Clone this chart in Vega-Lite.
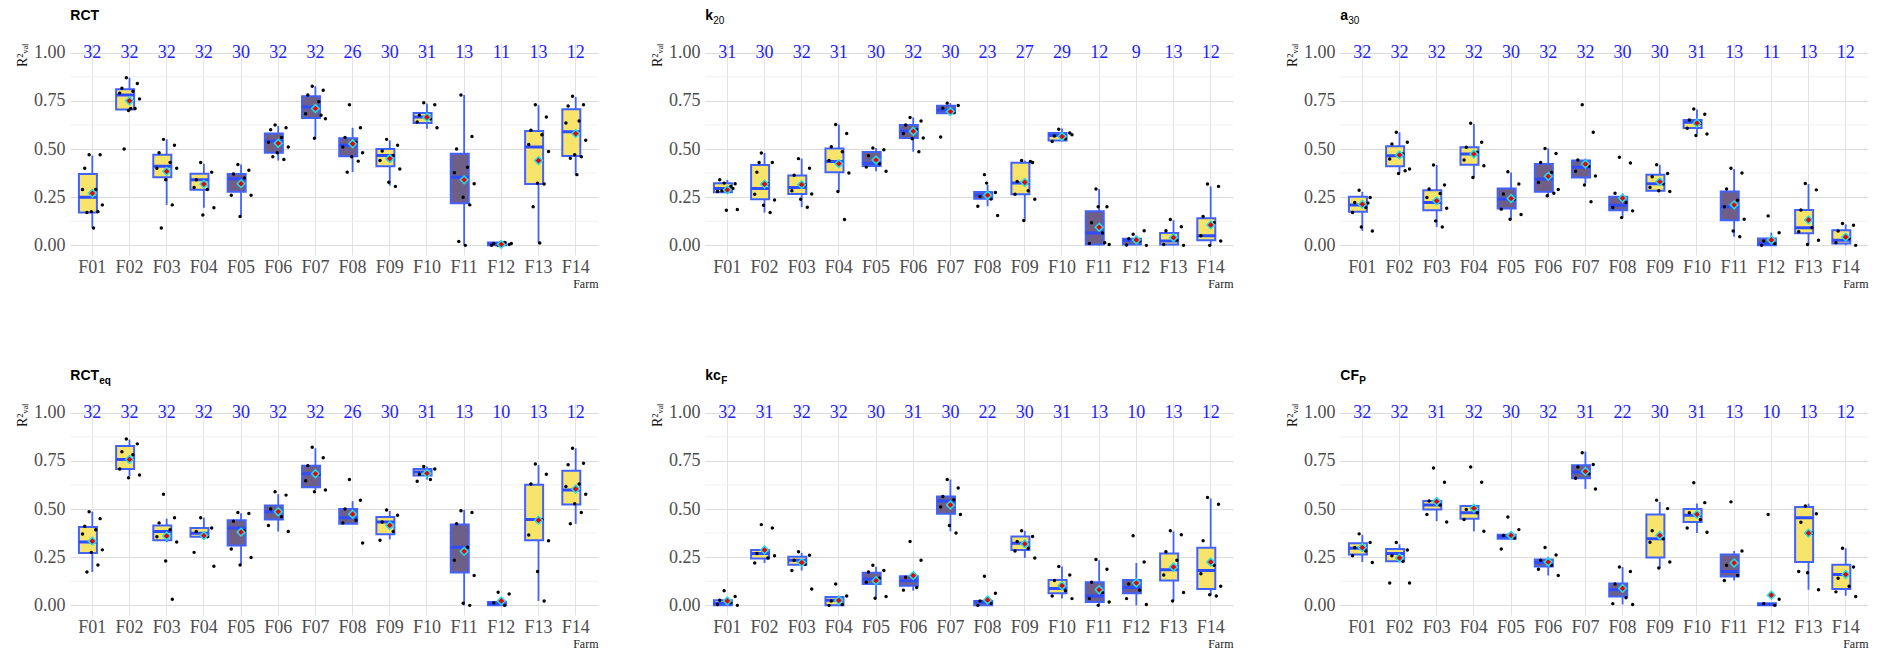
{
"$schema": "https://vega.github.io/schema/vega-lite/v6.json",
"background": "white",
"padding": {"left": 15, "top": 9, "right": 5, "bottom": 3},
"datasets": {
"box": [
{"p":"RCT","f":"F01","lo":0.09,"q1":0.17,"md":0.25,"q3":0.37,"hi":0.466,"mn":0.27,"n":32,"grp":"Y"},
{"p":"RCT","f":"F02","lo":0.70,"q1":0.705,"md":0.78,"q3":0.81,"hi":0.87,"mn":0.75,"n":32,"grp":"Y"},
{"p":"RCT","f":"F03","lo":0.21,"q1":0.353,"md":0.41,"q3":0.47,"hi":0.55,"mn":0.384,"n":32,"grp":"Y"},
{"p":"RCT","f":"F04","lo":0.195,"q1":0.289,"md":0.34,"q3":0.372,"hi":0.424,"mn":0.318,"n":32,"grp":"Y"},
{"p":"RCT","f":"F05","lo":0.153,"q1":0.278,"md":0.345,"q3":0.37,"hi":0.42,"mn":0.32,"n":30,"grp":"P"},
{"p":"RCT","f":"F06","lo":0.44,"q1":0.48,"md":0.54,"q3":0.58,"hi":0.62,"mn":0.53,"n":32,"grp":"P"},
{"p":"RCT","f":"F07","lo":0.556,"q1":0.661,"md":0.718,"q3":0.774,"hi":0.826,"mn":0.71,"n":32,"grp":"P"},
{"p":"RCT","f":"F08","lo":0.38,"q1":0.463,"md":0.52,"q3":0.556,"hi":0.61,"mn":0.527,"n":26,"grp":"P"},
{"p":"RCT","f":"F09","lo":0.31,"q1":0.41,"md":0.466,"q3":0.50,"hi":0.545,"mn":0.45,"n":30,"grp":"Y"},
{"p":"RCT","f":"F10","lo":0.605,"q1":0.635,"md":0.666,"q3":0.687,"hi":0.736,"mn":0.665,"n":31,"grp":"Y"},
{"p":"RCT","f":"F11","lo":0,"q1":0.219,"md":0.353,"q3":0.475,"hi":0.78,"mn":0.34,"n":13,"grp":"P"},
{"p":"RCT","f":"F12","lo":0,"q1":0,"md":0.008,"q3":0.015,"hi":0.02,"mn":0.005,"n":11,"grp":"P"},
{"p":"RCT","f":"F13","lo":0.012,"q1":0.318,"md":0.51,"q3":0.593,"hi":0.727,"mn":0.44,"n":13,"grp":"Y"},
{"p":"RCT","f":"F14","lo":0.367,"q1":0.464,"md":0.59,"q3":0.706,"hi":0.77,"mn":0.58,"n":12,"grp":"Y"},
{"p":"k20","f":"F01","lo":0.27,"q1":0.276,"md":0.295,"q3":0.322,"hi":0.34,"mn":0.288,"n":31,"grp":"Y"},
{"p":"k20","f":"F02","lo":0.17,"q1":0.239,"md":0.295,"q3":0.417,"hi":0.479,"mn":0.318,"n":30,"grp":"Y"},
{"p":"k20","f":"F03","lo":0.198,"q1":0.267,"md":0.30,"q3":0.362,"hi":0.45,"mn":0.315,"n":32,"grp":"Y"},
{"p":"k20","f":"F04","lo":0.28,"q1":0.38,"md":0.435,"q3":0.502,"hi":0.627,"mn":0.424,"n":31,"grp":"Y"},
{"p":"k20","f":"F05","lo":0.385,"q1":0.412,"md":0.426,"q3":0.484,"hi":0.505,"mn":0.443,"n":30,"grp":"P"},
{"p":"k20","f":"F06","lo":0.486,"q1":0.557,"md":0.594,"q3":0.624,"hi":0.664,"mn":0.592,"n":32,"grp":"P"},
{"p":"k20","f":"F07","lo":0.686,"q1":0.686,"md":0.703,"q3":0.724,"hi":0.738,"mn":0.694,"n":30,"grp":"P"},
{"p":"k20","f":"F08","lo":0.203,"q1":0.242,"md":0.261,"q3":0.277,"hi":0.314,"mn":0.26,"n":23,"grp":"P"},
{"p":"k20","f":"F09","lo":0.129,"q1":0.265,"md":0.323,"q3":0.429,"hi":0.44,"mn":0.327,"n":27,"grp":"Y"},
{"p":"k20","f":"F10","lo":0.539,"q1":0.544,"md":0.57,"q3":0.583,"hi":0.606,"mn":0.565,"n":29,"grp":"Y"},
{"p":"k20","f":"F11","lo":0,"q1":0.004,"md":0.064,"q3":0.177,"hi":0.292,"mn":0.094,"n":12,"grp":"P"},
{"p":"k20","f":"F12","lo":0,"q1":0.005,"md":0.026,"q3":0.034,"hi":0.05,"mn":0.028,"n":9,"grp":"P"},
{"p":"k20","f":"F13","lo":0,"q1":0.005,"md":0.023,"q3":0.064,"hi":0.13,"mn":0.04,"n":13,"grp":"Y"},
{"p":"k20","f":"F14","lo":0,"q1":0.026,"md":0.05,"q3":0.141,"hi":0.306,"mn":0.106,"n":12,"grp":"Y"},
{"p":"a30","f":"F01","lo":0.075,"q1":0.174,"md":0.21,"q3":0.252,"hi":0.278,"mn":0.213,"n":32,"grp":"Y"},
{"p":"a30","f":"F02","lo":0.375,"q1":0.41,"md":0.465,"q3":0.514,"hi":0.587,"mn":0.469,"n":32,"grp":"Y"},
{"p":"a30","f":"F03","lo":0.095,"q1":0.182,"md":0.222,"q3":0.286,"hi":0.417,"mn":0.231,"n":32,"grp":"Y"},
{"p":"a30","f":"F04","lo":0.352,"q1":0.418,"md":0.474,"q3":0.509,"hi":0.63,"mn":0.474,"n":32,"grp":"Y"},
{"p":"a30","f":"F05","lo":0.135,"q1":0.191,"md":0.24,"q3":0.295,"hi":0.378,"mn":0.243,"n":30,"grp":"P"},
{"p":"a30","f":"F06","lo":0.252,"q1":0.278,"md":0.344,"q3":0.422,"hi":0.503,"mn":0.358,"n":32,"grp":"P"},
{"p":"a30","f":"F07","lo":0.32,"q1":0.352,"md":0.405,"q3":0.44,"hi":0.45,"mn":0.422,"n":32,"grp":"P"},
{"p":"a30","f":"F08","lo":0.144,"q1":0.182,"md":0.208,"q3":0.252,"hi":0.27,"mn":0.245,"n":30,"grp":"P"},
{"p":"a30","f":"F09","lo":0.28,"q1":0.283,"md":0.32,"q3":0.366,"hi":0.418,"mn":0.33,"n":30,"grp":"Y"},
{"p":"a30","f":"F10","lo":0.578,"q1":0.609,"md":0.639,"q3":0.651,"hi":0.705,"mn":0.634,"n":31,"grp":"Y"},
{"p":"a30","f":"F11","lo":0.045,"q1":0.13,"md":0.2,"q3":0.28,"hi":0.396,"mn":0.21,"n":13,"grp":"P"},
{"p":"a30","f":"F12","lo":0,"q1":0,"md":0.01,"q3":0.036,"hi":0.066,"mn":0.028,"n":11,"grp":"P"},
{"p":"a30","f":"F13","lo":0.005,"q1":0.063,"md":0.092,"q3":0.184,"hi":0.318,"mn":0.132,"n":13,"grp":"Y"},
{"p":"a30","f":"F14","lo":0,"q1":0.01,"md":0.026,"q3":0.078,"hi":0.109,"mn":0.043,"n":12,"grp":"Y"},
{"p":"RCTeq","f":"F01","lo":0.173,"q1":0.272,"md":0.329,"q3":0.406,"hi":0.486,"mn":0.333,"n":32,"grp":"Y"},
{"p":"RCTeq","f":"F02","lo":0.671,"q1":0.707,"md":0.757,"q3":0.827,"hi":0.86,"mn":0.757,"n":32,"grp":"Y"},
{"p":"RCTeq","f":"F03","lo":0.329,"q1":0.338,"md":0.383,"q3":0.414,"hi":0.45,"mn":0.36,"n":32,"grp":"Y"},
{"p":"RCTeq","f":"F04","lo":0.356,"q1":0.356,"md":0.374,"q3":0.401,"hi":0.455,"mn":0.362,"n":32,"grp":"Y"},
{"p":"RCTeq","f":"F05","lo":0.209,"q1":0.311,"md":0.401,"q3":0.442,"hi":0.478,"mn":0.38,"n":30,"grp":"P"},
{"p":"RCTeq","f":"F06","lo":0.383,"q1":0.446,"md":0.486,"q3":0.518,"hi":0.577,"mn":0.486,"n":32,"grp":"P"},
{"p":"RCTeq","f":"F07","lo":0.599,"q1":0.613,"md":0.683,"q3":0.725,"hi":0.815,"mn":0.683,"n":32,"grp":"P"},
{"p":"RCTeq","f":"F08","lo":0.424,"q1":0.424,"md":0.455,"q3":0.50,"hi":0.541,"mn":0.473,"n":26,"grp":"P"},
{"p":"RCTeq","f":"F09","lo":0.342,"q1":0.369,"md":0.432,"q3":0.459,"hi":0.49,"mn":0.415,"n":30,"grp":"Y"},
{"p":"RCTeq","f":"F10","lo":0.653,"q1":0.674,"md":0.692,"q3":0.707,"hi":0.72,"mn":0.685,"n":31,"grp":"Y"},
{"p":"RCTeq","f":"F11","lo":0,"q1":0.171,"md":0.302,"q3":0.419,"hi":0.495,"mn":0.28,"n":13,"grp":"P"},
{"p":"RCTeq","f":"F12","lo":0,"q1":0,"md":0.009,"q3":0.018,"hi":0.02,"mn":0.023,"n":10,"grp":"P"},
{"p":"RCTeq","f":"F13","lo":0.023,"q1":0.338,"md":0.446,"q3":0.626,"hi":0.728,"mn":0.442,"n":13,"grp":"Y"},
{"p":"RCTeq","f":"F14","lo":0.423,"q1":0.523,"md":0.599,"q3":0.698,"hi":0.815,"mn":0.604,"n":12,"grp":"Y"},
{"p":"kcF","f":"F01","lo":0,"q1":0,"md":0.011,"q3":0.026,"hi":0.03,"mn":0.023,"n":32,"grp":"Y"},
{"p":"kcF","f":"F02","lo":0.22,"q1":0.243,"md":0.269,"q3":0.287,"hi":0.296,"mn":0.287,"n":31,"grp":"Y"},
{"p":"kcF","f":"F03","lo":0.181,"q1":0.211,"md":0.234,"q3":0.252,"hi":0.273,"mn":0.222,"n":32,"grp":"Y"},
{"p":"kcF","f":"F04","lo":0,"q1":0,"md":0.026,"q3":0.044,"hi":0.05,"mn":0.026,"n":32,"grp":"Y"},
{"p":"kcF","f":"F05","lo":0.04,"q1":0.111,"md":0.137,"q3":0.169,"hi":0.20,"mn":0.128,"n":30,"grp":"P"},
{"p":"kcF","f":"F06","lo":0.076,"q1":0.102,"md":0.128,"q3":0.151,"hi":0.151,"mn":0.155,"n":31,"grp":"P"},
{"p":"kcF","f":"F07","lo":0.384,"q1":0.475,"md":0.542,"q3":0.565,"hi":0.653,"mn":0.521,"n":30,"grp":"P"},
{"p":"kcF","f":"F08","lo":0,"q1":0,"md":0.018,"q3":0.023,"hi":0.03,"mn":0.028,"n":22,"grp":"P"},
{"p":"kcF","f":"F09","lo":0.246,"q1":0.287,"md":0.322,"q3":0.357,"hi":0.387,"mn":0.319,"n":30,"grp":"Y"},
{"p":"kcF","f":"F10","lo":0.035,"q1":0.063,"md":0.088,"q3":0.132,"hi":0.202,"mn":0.102,"n":31,"grp":"Y"},
{"p":"kcF","f":"F11","lo":0,"q1":0.018,"md":0.049,"q3":0.12,"hi":0.234,"mn":0.081,"n":13,"grp":"P"},
{"p":"kcF","f":"F12","lo":0,"q1":0.063,"md":0.093,"q3":0.132,"hi":0.22,"mn":0.116,"n":10,"grp":"P"},
{"p":"kcF","f":"F13","lo":0.023,"q1":0.129,"md":0.185,"q3":0.269,"hi":0.384,"mn":0.199,"n":13,"grp":"Y"},
{"p":"kcF","f":"F14","lo":0.053,"q1":0.085,"md":0.181,"q3":0.299,"hi":0.555,"mn":0.225,"n":12,"grp":"Y"},
{"p":"CFP","f":"F01","lo":0.225,"q1":0.264,"md":0.296,"q3":0.322,"hi":0.366,"mn":0.30,"n":32,"grp":"Y"},
{"p":"CFP","f":"F02","lo":0.229,"q1":0.229,"md":0.269,"q3":0.292,"hi":0.317,"mn":0.246,"n":32,"grp":"Y"},
{"p":"CFP","f":"F03","lo":0.437,"q1":0.498,"md":0.521,"q3":0.542,"hi":0.542,"mn":0.539,"n":31,"grp":"Y"},
{"p":"CFP","f":"F04","lo":0.384,"q1":0.449,"md":0.481,"q3":0.516,"hi":0.516,"mn":0.504,"n":32,"grp":"Y"},
{"p":"CFP","f":"F05","lo":0.34,"q1":0.345,"md":0.357,"q3":0.366,"hi":0.37,"mn":0.363,"n":30,"grp":"P"},
{"p":"CFP","f":"F06","lo":0.155,"q1":0.202,"md":0.222,"q3":0.238,"hi":0.252,"mn":0.225,"n":32,"grp":"P"},
{"p":"CFP","f":"F07","lo":0.604,"q1":0.66,"md":0.692,"q3":0.727,"hi":0.798,"mn":0.695,"n":31,"grp":"P"},
{"p":"CFP","f":"F08","lo":0.005,"q1":0.046,"md":0.081,"q3":0.114,"hi":0.199,"mn":0.088,"n":22,"grp":"P"},
{"p":"CFP","f":"F09","lo":0.195,"q1":0.248,"md":0.345,"q3":0.472,"hi":0.537,"mn":0.363,"n":30,"grp":"Y"},
{"p":"CFP","f":"F10","lo":0.375,"q1":0.433,"md":0.467,"q3":0.50,"hi":0.528,"mn":0.472,"n":31,"grp":"Y"},
{"p":"CFP","f":"F11","lo":0.129,"q1":0.15,"md":0.176,"q3":0.264,"hi":0.282,"mn":0.22,"n":13,"grp":"P"},
{"p":"CFP","f":"F12","lo":0,"q1":0,"md":0.005,"q3":0.011,"hi":0.012,"mn":0.053,"n":10,"grp":"P"},
{"p":"CFP","f":"F13","lo":0.081,"q1":0.225,"md":0.454,"q3":0.51,"hi":0.528,"mn":0.375,"n":13,"grp":"Y"},
{"p":"CFP","f":"F14","lo":0.05,"q1":0.085,"md":0.16,"q3":0.211,"hi":0.296,"mn":0.16,"n":12,"grp":"Y"}
],
"pts": [
{"p":"RCT","f":"F01","v":0.47,"i":4},{"p":"RCT","f":"F01","v":0.47,"i":9},{"p":"RCT","f":"F01","v":0.40,"i":2},{"p":"RCT","f":"F01","v":0.29,"i":7},{"p":"RCT","f":"F01","v":0.29,"i":1},{"p":"RCT","f":"F01","v":0.21,"i":10},{"p":"RCT","f":"F01","v":0.175,"i":5},{"p":"RCT","f":"F01","v":0.175,"i":8},{"p":"RCT","f":"F01","v":0.17,"i":3},{"p":"RCT","f":"F01","v":0.09,"i":6},
{"p":"RCT","f":"F02","v":0.87,"i":4},{"p":"RCT","f":"F02","v":0.84,"i":9},{"p":"RCT","f":"F02","v":0.815,"i":2},{"p":"RCT","f":"F02","v":0.80,"i":7},{"p":"RCT","f":"F02","v":0.79,"i":1},{"p":"RCT","f":"F02","v":0.76,"i":10},{"p":"RCT","f":"F02","v":0.70,"i":5},{"p":"RCT","f":"F02","v":0.71,"i":8},{"p":"RCT","f":"F02","v":0.50,"i":3},{"p":"RCT","f":"F02","v":0.71,"i":6},
{"p":"RCT","f":"F03","v":0.55,"i":4},{"p":"RCT","f":"F03","v":0.52,"i":9},{"p":"RCT","f":"F03","v":0.48,"i":2},{"p":"RCT","f":"F03","v":0.43,"i":7},{"p":"RCT","f":"F03","v":0.40,"i":1},{"p":"RCT","f":"F03","v":0.40,"i":10},{"p":"RCT","f":"F03","v":0.34,"i":5},{"p":"RCT","f":"F03","v":0.21,"i":8},{"p":"RCT","f":"F03","v":0.09,"i":3},
{"p":"RCT","f":"F04","v":0.43,"i":4},{"p":"RCT","f":"F04","v":0.38,"i":9},{"p":"RCT","f":"F04","v":0.34,"i":2},{"p":"RCT","f":"F04","v":0.29,"i":7},{"p":"RCT","f":"F04","v":0.30,"i":1},{"p":"RCT","f":"F04","v":0.195,"i":10},{"p":"RCT","f":"F04","v":0.157,"i":5},
{"p":"RCT","f":"F05","v":0.42,"i":4},{"p":"RCT","f":"F05","v":0.39,"i":9},{"p":"RCT","f":"F05","v":0.37,"i":2},{"p":"RCT","f":"F05","v":0.35,"i":7},{"p":"RCT","f":"F05","v":0.26,"i":1},{"p":"RCT","f":"F05","v":0.26,"i":10},{"p":"RCT","f":"F05","v":0.15,"i":5},
{"p":"RCT","f":"F06","v":0.625,"i":4},{"p":"RCT","f":"F06","v":0.61,"i":9},{"p":"RCT","f":"F06","v":0.60,"i":2},{"p":"RCT","f":"F06","v":0.56,"i":7},{"p":"RCT","f":"F06","v":0.535,"i":1},{"p":"RCT","f":"F06","v":0.51,"i":10},{"p":"RCT","f":"F06","v":0.48,"i":5},{"p":"RCT","f":"F06","v":0.445,"i":8},{"p":"RCT","f":"F06","v":0.46,"i":3},
{"p":"RCT","f":"F07","v":0.826,"i":4},{"p":"RCT","f":"F07","v":0.805,"i":9},{"p":"RCT","f":"F07","v":0.78,"i":2},{"p":"RCT","f":"F07","v":0.745,"i":7},{"p":"RCT","f":"F07","v":0.683,"i":1},{"p":"RCT","f":"F07","v":0.657,"i":10},{"p":"RCT","f":"F07","v":0.556,"i":5},{"p":"RCT","f":"F07","v":0.675,"i":8},
{"p":"RCT","f":"F08","v":0.73,"i":4},{"p":"RCT","f":"F08","v":0.61,"i":9},{"p":"RCT","f":"F08","v":0.56,"i":2},{"p":"RCT","f":"F08","v":0.535,"i":7},{"p":"RCT","f":"F08","v":0.51,"i":1},{"p":"RCT","f":"F08","v":0.48,"i":10},{"p":"RCT","f":"F08","v":0.46,"i":5},{"p":"RCT","f":"F08","v":0.437,"i":8},{"p":"RCT","f":"F08","v":0.38,"i":3},
{"p":"RCT","f":"F09","v":0.55,"i":4},{"p":"RCT","f":"F09","v":0.52,"i":9},{"p":"RCT","f":"F09","v":0.49,"i":2},{"p":"RCT","f":"F09","v":0.466,"i":7},{"p":"RCT","f":"F09","v":0.44,"i":1},{"p":"RCT","f":"F09","v":0.396,"i":10},{"p":"RCT","f":"F09","v":0.327,"i":5},{"p":"RCT","f":"F09","v":0.306,"i":8},
{"p":"RCT","f":"F10","v":0.74,"i":4},{"p":"RCT","f":"F10","v":0.73,"i":9},{"p":"RCT","f":"F10","v":0.675,"i":2},{"p":"RCT","f":"F10","v":0.657,"i":7},{"p":"RCT","f":"F10","v":0.64,"i":1},{"p":"RCT","f":"F10","v":0.61,"i":10},
{"p":"RCT","f":"F11","v":0.78,"i":4},{"p":"RCT","f":"F11","v":0.565,"i":9},{"p":"RCT","f":"F11","v":0.50,"i":2},{"p":"RCT","f":"F11","v":0.405,"i":7},{"p":"RCT","f":"F11","v":0.377,"i":1},{"p":"RCT","f":"F11","v":0.32,"i":10},{"p":"RCT","f":"F11","v":0.25,"i":5},{"p":"RCT","f":"F11","v":0.21,"i":8},{"p":"RCT","f":"F11","v":0.02,"i":3},{"p":"RCT","f":"F11","v":0,"i":6},
{"p":"RCT","f":"F12","v":0,"i":4},{"p":"RCT","f":"F12","v":0.005,"i":9},{"p":"RCT","f":"F12","v":0.01,"i":2},{"p":"RCT","f":"F12","v":0.015,"i":7},{"p":"RCT","f":"F12","v":0,"i":1},{"p":"RCT","f":"F12","v":0.01,"i":10},{"p":"RCT","f":"F12","v":0.012,"i":5},
{"p":"RCT","f":"F13","v":0.73,"i":4},{"p":"RCT","f":"F13","v":0.666,"i":9},{"p":"RCT","f":"F13","v":0.597,"i":2},{"p":"RCT","f":"F13","v":0.574,"i":7},{"p":"RCT","f":"F13","v":0.523,"i":1},{"p":"RCT","f":"F13","v":0.487,"i":10},{"p":"RCT","f":"F13","v":0.322,"i":5},{"p":"RCT","f":"F13","v":0.318,"i":8},{"p":"RCT","f":"F13","v":0.2,"i":3},{"p":"RCT","f":"F13","v":0.012,"i":6},
{"p":"RCT","f":"F14","v":0.774,"i":4},{"p":"RCT","f":"F14","v":0.73,"i":9},{"p":"RCT","f":"F14","v":0.723,"i":2},{"p":"RCT","f":"F14","v":0.645,"i":7},{"p":"RCT","f":"F14","v":0.635,"i":1},{"p":"RCT","f":"F14","v":0.545,"i":10},{"p":"RCT","f":"F14","v":0.47,"i":5},{"p":"RCT","f":"F14","v":0.46,"i":8},{"p":"RCT","f":"F14","v":0.452,"i":3},{"p":"RCT","f":"F14","v":0.367,"i":6},
{"p":"k20","f":"F01","v":0.323,"i":4},{"p":"k20","f":"F01","v":0.32,"i":9},{"p":"k20","f":"F01","v":0.34,"i":2},{"p":"k20","f":"F01","v":0.305,"i":7},{"p":"k20","f":"F01","v":0.28,"i":1},{"p":"k20","f":"F01","v":0.186,"i":10},{"p":"k20","f":"F01","v":0.182,"i":5},{"p":"k20","f":"F01","v":0.295,"i":8},{"p":"k20","f":"F01","v":0.283,"i":3},
{"p":"k20","f":"F02","v":0.479,"i":4},{"p":"k20","f":"F02","v":0.43,"i":9},{"p":"k20","f":"F02","v":0.38,"i":2},{"p":"k20","f":"F02","v":0.318,"i":7},{"p":"k20","f":"F02","v":0.265,"i":1},{"p":"k20","f":"F02","v":0.235,"i":10},{"p":"k20","f":"F02","v":0.208,"i":5},{"p":"k20","f":"F02","v":0.17,"i":8},{"p":"k20","f":"F02","v":0.43,"i":3},
{"p":"k20","f":"F03","v":0.45,"i":4},{"p":"k20","f":"F03","v":0.40,"i":9},{"p":"k20","f":"F03","v":0.364,"i":2},{"p":"k20","f":"F03","v":0.315,"i":7},{"p":"k20","f":"F03","v":0.283,"i":1},{"p":"k20","f":"F03","v":0.267,"i":10},{"p":"k20","f":"F03","v":0.239,"i":5},{"p":"k20","f":"F03","v":0.198,"i":8},
{"p":"k20","f":"F04","v":0.627,"i":4},{"p":"k20","f":"F04","v":0.58,"i":9},{"p":"k20","f":"F04","v":0.512,"i":2},{"p":"k20","f":"F04","v":0.486,"i":7},{"p":"k20","f":"F04","v":0.44,"i":1},{"p":"k20","f":"F04","v":0.376,"i":10},{"p":"k20","f":"F04","v":0.28,"i":5},{"p":"k20","f":"F04","v":0.134,"i":8},
{"p":"k20","f":"F05","v":0.505,"i":4},{"p":"k20","f":"F05","v":0.496,"i":9},{"p":"k20","f":"F05","v":0.465,"i":2},{"p":"k20","f":"F05","v":0.424,"i":7},{"p":"k20","f":"F05","v":0.406,"i":1},{"p":"k20","f":"F05","v":0.385,"i":10},
{"p":"k20","f":"F06","v":0.664,"i":4},{"p":"k20","f":"F06","v":0.645,"i":9},{"p":"k20","f":"F06","v":0.624,"i":2},{"p":"k20","f":"F06","v":0.60,"i":7},{"p":"k20","f":"F06","v":0.58,"i":1},{"p":"k20","f":"F06","v":0.557,"i":10},{"p":"k20","f":"F06","v":0.553,"i":5},{"p":"k20","f":"F06","v":0.486,"i":8},
{"p":"k20","f":"F07","v":0.738,"i":4},{"p":"k20","f":"F07","v":0.726,"i":9},{"p":"k20","f":"F07","v":0.712,"i":2},{"p":"k20","f":"F07","v":0.689,"i":7},{"p":"k20","f":"F07","v":0.562,"i":1},
{"p":"k20","f":"F08","v":0.367,"i":4},{"p":"k20","f":"F08","v":0.274,"i":9},{"p":"k20","f":"F08","v":0.253,"i":2},{"p":"k20","f":"F08","v":0.24,"i":7},{"p":"k20","f":"F08","v":0.203,"i":1},{"p":"k20","f":"F08","v":0.155,"i":10},{"p":"k20","f":"F08","v":0.323,"i":5},
{"p":"k20","f":"F09","v":0.44,"i":4},{"p":"k20","f":"F09","v":0.43,"i":9},{"p":"k20","f":"F09","v":0.332,"i":2},{"p":"k20","f":"F09","v":0.283,"i":7},{"p":"k20","f":"F09","v":0.265,"i":1},{"p":"k20","f":"F09","v":0.239,"i":10},{"p":"k20","f":"F09","v":0.129,"i":5},{"p":"k20","f":"F09","v":0.435,"i":8},
{"p":"k20","f":"F10","v":0.602,"i":4},{"p":"k20","f":"F10","v":0.583,"i":9},{"p":"k20","f":"F10","v":0.567,"i":2},{"p":"k20","f":"F10","v":0.553,"i":7},{"p":"k20","f":"F10","v":0.539,"i":1},{"p":"k20","f":"F10","v":0.574,"i":10},
{"p":"k20","f":"F11","v":0.292,"i":4},{"p":"k20","f":"F11","v":0.20,"i":9},{"p":"k20","f":"F11","v":0.117,"i":2},{"p":"k20","f":"F11","v":0.064,"i":7},{"p":"k20","f":"F11","v":0.01,"i":1},{"p":"k20","f":"F11","v":0.004,"i":10},{"p":"k20","f":"F11","v":0.20,"i":5},{"p":"k20","f":"F11","v":0.014,"i":8},
{"p":"k20","f":"F12","v":0.058,"i":4},{"p":"k20","f":"F12","v":0.076,"i":9},{"p":"k20","f":"F12","v":0.034,"i":2},{"p":"k20","f":"F12","v":0.023,"i":7},{"p":"k20","f":"F12","v":0.002,"i":1},{"p":"k20","f":"F12","v":0,"i":10},
{"p":"k20","f":"F13","v":0.134,"i":4},{"p":"k20","f":"F13","v":0.097,"i":9},{"p":"k20","f":"F13","v":0.076,"i":2},{"p":"k20","f":"F13","v":0.026,"i":7},{"p":"k20","f":"F13","v":0.005,"i":1},{"p":"k20","f":"F13","v":0,"i":10},
{"p":"k20","f":"F14","v":0.318,"i":4},{"p":"k20","f":"F14","v":0.306,"i":9},{"p":"k20","f":"F14","v":0.15,"i":2},{"p":"k20","f":"F14","v":0.117,"i":7},{"p":"k20","f":"F14","v":0.05,"i":1},{"p":"k20","f":"F14","v":0.023,"i":10},{"p":"k20","f":"F14","v":0,"i":5},
{"p":"a30","f":"F01","v":0.286,"i":4},{"p":"a30","f":"F01","v":0.248,"i":9},{"p":"a30","f":"F01","v":0.222,"i":2},{"p":"a30","f":"F01","v":0.196,"i":7},{"p":"a30","f":"F01","v":0.17,"i":1},{"p":"a30","f":"F01","v":0.075,"i":10},{"p":"a30","f":"F01","v":0.095,"i":5},{"p":"a30","f":"F01","v":0.22,"i":8},
{"p":"a30","f":"F02","v":0.587,"i":4},{"p":"a30","f":"F02","v":0.535,"i":9},{"p":"a30","f":"F02","v":0.526,"i":2},{"p":"a30","f":"F02","v":0.474,"i":7},{"p":"a30","f":"F02","v":0.448,"i":1},{"p":"a30","f":"F02","v":0.396,"i":10},{"p":"a30","f":"F02","v":0.373,"i":5},{"p":"a30","f":"F02","v":0.387,"i":8},
{"p":"a30","f":"F03","v":0.417,"i":4},{"p":"a30","f":"F03","v":0.313,"i":9},{"p":"a30","f":"F03","v":0.292,"i":2},{"p":"a30","f":"F03","v":0.269,"i":7},{"p":"a30","f":"F03","v":0.248,"i":1},{"p":"a30","f":"F03","v":0.193,"i":10},{"p":"a30","f":"F03","v":0.127,"i":5},{"p":"a30","f":"F03","v":0.095,"i":8},
{"p":"a30","f":"F04","v":0.634,"i":4},{"p":"a30","f":"F04","v":0.535,"i":9},{"p":"a30","f":"F04","v":0.509,"i":2},{"p":"a30","f":"F04","v":0.483,"i":7},{"p":"a30","f":"F04","v":0.443,"i":1},{"p":"a30","f":"F04","v":0.413,"i":10},{"p":"a30","f":"F04","v":0.352,"i":5},
{"p":"a30","f":"F05","v":0.382,"i":4},{"p":"a30","f":"F05","v":0.318,"i":9},{"p":"a30","f":"F05","v":0.266,"i":2},{"p":"a30","f":"F05","v":0.24,"i":7},{"p":"a30","f":"F05","v":0.188,"i":1},{"p":"a30","f":"F05","v":0.16,"i":10},{"p":"a30","f":"F05","v":0.135,"i":5},
{"p":"a30","f":"F06","v":0.503,"i":4},{"p":"a30","f":"F06","v":0.477,"i":9},{"p":"a30","f":"F06","v":0.43,"i":2},{"p":"a30","f":"F06","v":0.378,"i":7},{"p":"a30","f":"F06","v":0.326,"i":1},{"p":"a30","f":"F06","v":0.29,"i":10},{"p":"a30","f":"F06","v":0.257,"i":5},{"p":"a30","f":"F06","v":0.27,"i":8},
{"p":"a30","f":"F07","v":0.73,"i":4},{"p":"a30","f":"F07","v":0.587,"i":9},{"p":"a30","f":"F07","v":0.443,"i":2},{"p":"a30","f":"F07","v":0.41,"i":7},{"p":"a30","f":"F07","v":0.384,"i":1},{"p":"a30","f":"F07","v":0.36,"i":10},{"p":"a30","f":"F07","v":0.313,"i":5},{"p":"a30","f":"F07","v":0.226,"i":8},
{"p":"a30","f":"F08","v":0.457,"i":4},{"p":"a30","f":"F08","v":0.427,"i":9},{"p":"a30","f":"F08","v":0.27,"i":2},{"p":"a30","f":"F08","v":0.222,"i":7},{"p":"a30","f":"F08","v":0.196,"i":1},{"p":"a30","f":"F08","v":0.179,"i":10},{"p":"a30","f":"F08","v":0.144,"i":5},
{"p":"a30","f":"F09","v":0.418,"i":4},{"p":"a30","f":"F09","v":0.373,"i":9},{"p":"a30","f":"F09","v":0.356,"i":2},{"p":"a30","f":"F09","v":0.32,"i":7},{"p":"a30","f":"F09","v":0.30,"i":1},{"p":"a30","f":"F09","v":0.28,"i":10},{"p":"a30","f":"F09","v":0.283,"i":5},
{"p":"a30","f":"F10","v":0.708,"i":4},{"p":"a30","f":"F10","v":0.68,"i":9},{"p":"a30","f":"F10","v":0.651,"i":2},{"p":"a30","f":"F10","v":0.634,"i":7},{"p":"a30","f":"F10","v":0.608,"i":1},{"p":"a30","f":"F10","v":0.578,"i":10},{"p":"a30","f":"F10","v":0.57,"i":5},
{"p":"a30","f":"F11","v":0.40,"i":4},{"p":"a30","f":"F11","v":0.375,"i":9},{"p":"a30","f":"F11","v":0.292,"i":2},{"p":"a30","f":"F11","v":0.234,"i":7},{"p":"a30","f":"F11","v":0.20,"i":1},{"p":"a30","f":"F11","v":0.135,"i":10},{"p":"a30","f":"F11","v":0.075,"i":5},{"p":"a30","f":"F11","v":0.045,"i":8},
{"p":"a30","f":"F12","v":0.153,"i":4},{"p":"a30","f":"F12","v":0.066,"i":9},{"p":"a30","f":"F12","v":0.023,"i":2},{"p":"a30","f":"F12","v":0.01,"i":7},{"p":"a30","f":"F12","v":0,"i":1},
{"p":"a30","f":"F13","v":0.321,"i":4},{"p":"a30","f":"F13","v":0.288,"i":9},{"p":"a30","f":"F13","v":0.184,"i":2},{"p":"a30","f":"F13","v":0.092,"i":7},{"p":"a30","f":"F13","v":0.071,"i":1},{"p":"a30","f":"F13","v":0.026,"i":10},{"p":"a30","f":"F13","v":0.005,"i":5},
{"p":"a30","f":"F14","v":0.113,"i":4},{"p":"a30","f":"F14","v":0.104,"i":9},{"p":"a30","f":"F14","v":0.075,"i":2},{"p":"a30","f":"F14","v":0.036,"i":7},{"p":"a30","f":"F14","v":0.014,"i":1},{"p":"a30","f":"F14","v":0,"i":10},
{"p":"RCTeq","f":"F01","v":0.486,"i":4},{"p":"RCTeq","f":"F01","v":0.45,"i":9},{"p":"RCTeq","f":"F01","v":0.41,"i":2},{"p":"RCTeq","f":"F01","v":0.392,"i":7},{"p":"RCTeq","f":"F01","v":0.37,"i":1},{"p":"RCTeq","f":"F01","v":0.288,"i":10},{"p":"RCTeq","f":"F01","v":0.275,"i":5},{"p":"RCTeq","f":"F01","v":0.209,"i":8},{"p":"RCTeq","f":"F01","v":0.173,"i":3},
{"p":"RCTeq","f":"F02","v":0.863,"i":4},{"p":"RCTeq","f":"F02","v":0.838,"i":9},{"p":"RCTeq","f":"F02","v":0.797,"i":2},{"p":"RCTeq","f":"F02","v":0.782,"i":7},{"p":"RCTeq","f":"F02","v":0.707,"i":1},{"p":"RCTeq","f":"F02","v":0.676,"i":10},{"p":"RCTeq","f":"F02","v":0.662,"i":5},
{"p":"RCTeq","f":"F03","v":0.577,"i":4},{"p":"RCTeq","f":"F03","v":0.455,"i":9},{"p":"RCTeq","f":"F03","v":0.428,"i":2},{"p":"RCTeq","f":"F03","v":0.392,"i":7},{"p":"RCTeq","f":"F03","v":0.356,"i":1},{"p":"RCTeq","f":"F03","v":0.329,"i":10},{"p":"RCTeq","f":"F03","v":0.23,"i":5},{"p":"RCTeq","f":"F03","v":0.032,"i":8},
{"p":"RCTeq","f":"F04","v":0.455,"i":4},{"p":"RCTeq","f":"F04","v":0.401,"i":9},{"p":"RCTeq","f":"F04","v":0.383,"i":2},{"p":"RCTeq","f":"F04","v":0.356,"i":7},{"p":"RCTeq","f":"F04","v":0.275,"i":1},{"p":"RCTeq","f":"F04","v":0.203,"i":10},
{"p":"RCTeq","f":"F05","v":0.482,"i":4},{"p":"RCTeq","f":"F05","v":0.477,"i":9},{"p":"RCTeq","f":"F05","v":0.437,"i":2},{"p":"RCTeq","f":"F05","v":0.387,"i":7},{"p":"RCTeq","f":"F05","v":0.293,"i":1},{"p":"RCTeq","f":"F05","v":0.248,"i":10},{"p":"RCTeq","f":"F05","v":0.209,"i":5},
{"p":"RCTeq","f":"F06","v":0.59,"i":4},{"p":"RCTeq","f":"F06","v":0.572,"i":9},{"p":"RCTeq","f":"F06","v":0.50,"i":2},{"p":"RCTeq","f":"F06","v":0.46,"i":7},{"p":"RCTeq","f":"F06","v":0.414,"i":1},{"p":"RCTeq","f":"F06","v":0.383,"i":10},
{"p":"RCTeq","f":"F07","v":0.82,"i":4},{"p":"RCTeq","f":"F07","v":0.766,"i":9},{"p":"RCTeq","f":"F07","v":0.725,"i":2},{"p":"RCTeq","f":"F07","v":0.68,"i":7},{"p":"RCTeq","f":"F07","v":0.647,"i":1},{"p":"RCTeq","f":"F07","v":0.599,"i":10},{"p":"RCTeq","f":"F07","v":0.59,"i":5},
{"p":"RCTeq","f":"F08","v":0.653,"i":4},{"p":"RCTeq","f":"F08","v":0.545,"i":9},{"p":"RCTeq","f":"F08","v":0.50,"i":2},{"p":"RCTeq","f":"F08","v":0.442,"i":7},{"p":"RCTeq","f":"F08","v":0.428,"i":1},{"p":"RCTeq","f":"F08","v":0.324,"i":10},
{"p":"RCTeq","f":"F09","v":0.495,"i":4},{"p":"RCTeq","f":"F09","v":0.468,"i":9},{"p":"RCTeq","f":"F09","v":0.432,"i":2},{"p":"RCTeq","f":"F09","v":0.383,"i":7},{"p":"RCTeq","f":"F09","v":0.338,"i":1},
{"p":"RCTeq","f":"F10","v":0.72,"i":4},{"p":"RCTeq","f":"F10","v":0.707,"i":9},{"p":"RCTeq","f":"F10","v":0.68,"i":2},{"p":"RCTeq","f":"F10","v":0.653,"i":7},{"p":"RCTeq","f":"F10","v":0.644,"i":1},
{"p":"RCTeq","f":"F11","v":0.491,"i":4},{"p":"RCTeq","f":"F11","v":0.482,"i":9},{"p":"RCTeq","f":"F11","v":0.423,"i":2},{"p":"RCTeq","f":"F11","v":0.302,"i":7},{"p":"RCTeq","f":"F11","v":0.234,"i":1},{"p":"RCTeq","f":"F11","v":0.155,"i":10},{"p":"RCTeq","f":"F11","v":0.011,"i":5},{"p":"RCTeq","f":"F11","v":0,"i":8},
{"p":"RCTeq","f":"F12","v":0.068,"i":4},{"p":"RCTeq","f":"F12","v":0.059,"i":9},{"p":"RCTeq","f":"F12","v":0.014,"i":2},{"p":"RCTeq","f":"F12","v":0,"i":7},
{"p":"RCTeq","f":"F13","v":0.734,"i":4},{"p":"RCTeq","f":"F13","v":0.68,"i":9},{"p":"RCTeq","f":"F13","v":0.63,"i":2},{"p":"RCTeq","f":"F13","v":0.446,"i":7},{"p":"RCTeq","f":"F13","v":0.365,"i":1},{"p":"RCTeq","f":"F13","v":0.335,"i":10},{"p":"RCTeq","f":"F13","v":0.176,"i":5},{"p":"RCTeq","f":"F13","v":0.023,"i":8},
{"p":"RCTeq","f":"F14","v":0.815,"i":4},{"p":"RCTeq","f":"F14","v":0.737,"i":9},{"p":"RCTeq","f":"F14","v":0.73,"i":2},{"p":"RCTeq","f":"F14","v":0.63,"i":7},{"p":"RCTeq","f":"F14","v":0.617,"i":1},{"p":"RCTeq","f":"F14","v":0.576,"i":10},{"p":"RCTeq","f":"F14","v":0.527,"i":5},{"p":"RCTeq","f":"F14","v":0.482,"i":8},{"p":"RCTeq","f":"F14","v":0.423,"i":3},
{"p":"kcF","f":"F01","v":0.076,"i":4},{"p":"kcF","f":"F01","v":0.046,"i":9},{"p":"kcF","f":"F01","v":0.026,"i":2},{"p":"kcF","f":"F01","v":0.014,"i":7},{"p":"kcF","f":"F01","v":0.005,"i":1},{"p":"kcF","f":"F01","v":0,"i":10},
{"p":"kcF","f":"F02","v":0.419,"i":4},{"p":"kcF","f":"F02","v":0.401,"i":9},{"p":"kcF","f":"F02","v":0.269,"i":2},{"p":"kcF","f":"F02","v":0.246,"i":7},{"p":"kcF","f":"F02","v":0.22,"i":1},{"p":"kcF","f":"F02","v":0.257,"i":10},
{"p":"kcF","f":"F03","v":0.278,"i":4},{"p":"kcF","f":"F03","v":0.26,"i":9},{"p":"kcF","f":"F03","v":0.234,"i":2},{"p":"kcF","f":"F03","v":0.213,"i":7},{"p":"kcF","f":"F03","v":0.181,"i":1},{"p":"kcF","f":"F03","v":0.085,"i":10},
{"p":"kcF","f":"F04","v":0.111,"i":4},{"p":"kcF","f":"F04","v":0.049,"i":9},{"p":"kcF","f":"F04","v":0.023,"i":2},{"p":"kcF","f":"F04","v":0.005,"i":7},{"p":"kcF","f":"F04","v":0,"i":1},
{"p":"kcF","f":"F05","v":0.208,"i":4},{"p":"kcF","f":"F05","v":0.181,"i":9},{"p":"kcF","f":"F05","v":0.173,"i":2},{"p":"kcF","f":"F05","v":0.141,"i":7},{"p":"kcF","f":"F05","v":0.12,"i":1},{"p":"kcF","f":"F05","v":0.046,"i":10},{"p":"kcF","f":"F05","v":0.037,"i":5},
{"p":"kcF","f":"F06","v":0.331,"i":4},{"p":"kcF","f":"F06","v":0.234,"i":9},{"p":"kcF","f":"F06","v":0.146,"i":2},{"p":"kcF","f":"F06","v":0.093,"i":7},{"p":"kcF","f":"F06","v":0.079,"i":1},
{"p":"kcF","f":"F07","v":0.653,"i":4},{"p":"kcF","f":"F07","v":0.609,"i":9},{"p":"kcF","f":"F07","v":0.565,"i":2},{"p":"kcF","f":"F07","v":0.548,"i":7},{"p":"kcF","f":"F07","v":0.511,"i":1},{"p":"kcF","f":"F07","v":0.472,"i":10},{"p":"kcF","f":"F07","v":0.414,"i":5},{"p":"kcF","f":"F07","v":0.375,"i":8},
{"p":"kcF","f":"F08","v":0.151,"i":4},{"p":"kcF","f":"F08","v":0.063,"i":9},{"p":"kcF","f":"F08","v":0.023,"i":2},{"p":"kcF","f":"F08","v":0.011,"i":7},{"p":"kcF","f":"F08","v":0,"i":1},
{"p":"kcF","f":"F09","v":0.387,"i":4},{"p":"kcF","f":"F09","v":0.357,"i":9},{"p":"kcF","f":"F09","v":0.331,"i":2},{"p":"kcF","f":"F09","v":0.296,"i":7},{"p":"kcF","f":"F09","v":0.282,"i":1},{"p":"kcF","f":"F09","v":0.246,"i":10},
{"p":"kcF","f":"F10","v":0.202,"i":4},{"p":"kcF","f":"F10","v":0.158,"i":9},{"p":"kcF","f":"F10","v":0.129,"i":2},{"p":"kcF","f":"F10","v":0.076,"i":7},{"p":"kcF","f":"F10","v":0.049,"i":1},{"p":"kcF","f":"F10","v":0.035,"i":10},
{"p":"kcF","f":"F11","v":0.238,"i":4},{"p":"kcF","f":"F11","v":0.187,"i":9},{"p":"kcF","f":"F11","v":0.12,"i":2},{"p":"kcF","f":"F11","v":0.067,"i":7},{"p":"kcF","f":"F11","v":0.035,"i":1},{"p":"kcF","f":"F11","v":0.018,"i":10},{"p":"kcF","f":"F11","v":0,"i":5},
{"p":"kcF","f":"F12","v":0.361,"i":4},{"p":"kcF","f":"F12","v":0.225,"i":9},{"p":"kcF","f":"F12","v":0.111,"i":2},{"p":"kcF","f":"F12","v":0.079,"i":7},{"p":"kcF","f":"F12","v":0.035,"i":1},{"p":"kcF","f":"F12","v":0.005,"i":10},
{"p":"kcF","f":"F13","v":0.387,"i":4},{"p":"kcF","f":"F13","v":0.366,"i":9},{"p":"kcF","f":"F13","v":0.278,"i":2},{"p":"kcF","f":"F13","v":0.234,"i":7},{"p":"kcF","f":"F13","v":0.158,"i":1},{"p":"kcF","f":"F13","v":0.067,"i":10},{"p":"kcF","f":"F13","v":0.023,"i":5},
{"p":"kcF","f":"F14","v":0.56,"i":4},{"p":"kcF","f":"F14","v":0.525,"i":9},{"p":"kcF","f":"F14","v":0.335,"i":2},{"p":"kcF","f":"F14","v":0.208,"i":7},{"p":"kcF","f":"F14","v":0.164,"i":1},{"p":"kcF","f":"F14","v":0.099,"i":10},{"p":"kcF","f":"F14","v":0.055,"i":5},{"p":"kcF","f":"F14","v":0.049,"i":8},
{"p":"CFP","f":"F01","v":0.371,"i":4},{"p":"CFP","f":"F01","v":0.326,"i":9},{"p":"CFP","f":"F01","v":0.30,"i":2},{"p":"CFP","f":"F01","v":0.282,"i":7},{"p":"CFP","f":"F01","v":0.257,"i":1},{"p":"CFP","f":"F01","v":0.222,"i":10},
{"p":"CFP","f":"F02","v":0.326,"i":4},{"p":"CFP","f":"F02","v":0.287,"i":9},{"p":"CFP","f":"F02","v":0.257,"i":2},{"p":"CFP","f":"F02","v":0.229,"i":7},{"p":"CFP","f":"F02","v":0.116,"i":1},{"p":"CFP","f":"F02","v":0.116,"i":10},
{"p":"CFP","f":"F03","v":0.713,"i":4},{"p":"CFP","f":"F03","v":0.639,"i":9},{"p":"CFP","f":"F03","v":0.542,"i":2},{"p":"CFP","f":"F03","v":0.521,"i":7},{"p":"CFP","f":"F03","v":0.472,"i":1},{"p":"CFP","f":"F03","v":0.433,"i":10},
{"p":"CFP","f":"F04","v":0.718,"i":4},{"p":"CFP","f":"F04","v":0.639,"i":9},{"p":"CFP","f":"F04","v":0.498,"i":2},{"p":"CFP","f":"F04","v":0.481,"i":7},{"p":"CFP","f":"F04","v":0.445,"i":1},{"p":"CFP","f":"F04","v":0.384,"i":10},
{"p":"CFP","f":"F05","v":0.458,"i":4},{"p":"CFP","f":"F05","v":0.393,"i":9},{"p":"CFP","f":"F05","v":0.363,"i":2},{"p":"CFP","f":"F05","v":0.349,"i":7},{"p":"CFP","f":"F05","v":0.292,"i":1},
{"p":"CFP","f":"F06","v":0.30,"i":4},{"p":"CFP","f":"F06","v":0.261,"i":9},{"p":"CFP","f":"F06","v":0.234,"i":2},{"p":"CFP","f":"F06","v":0.208,"i":7},{"p":"CFP","f":"F06","v":0.187,"i":1},{"p":"CFP","f":"F06","v":0.155,"i":10},
{"p":"CFP","f":"F07","v":0.792,"i":4},{"p":"CFP","f":"F07","v":0.731,"i":9},{"p":"CFP","f":"F07","v":0.718,"i":2},{"p":"CFP","f":"F07","v":0.683,"i":7},{"p":"CFP","f":"F07","v":0.66,"i":1},{"p":"CFP","f":"F07","v":0.604,"i":10},
{"p":"CFP","f":"F08","v":0.199,"i":4},{"p":"CFP","f":"F08","v":0.176,"i":9},{"p":"CFP","f":"F08","v":0.111,"i":2},{"p":"CFP","f":"F08","v":0.04,"i":7},{"p":"CFP","f":"F08","v":0.009,"i":1},{"p":"CFP","f":"F08","v":0.005,"i":10},
{"p":"CFP","f":"F09","v":0.546,"i":4},{"p":"CFP","f":"F09","v":0.502,"i":9},{"p":"CFP","f":"F09","v":0.387,"i":2},{"p":"CFP","f":"F09","v":0.345,"i":7},{"p":"CFP","f":"F09","v":0.327,"i":1},{"p":"CFP","f":"F09","v":0.225,"i":10},{"p":"CFP","f":"F09","v":0.194,"i":5},
{"p":"CFP","f":"F10","v":0.636,"i":4},{"p":"CFP","f":"F10","v":0.533,"i":9},{"p":"CFP","f":"F10","v":0.481,"i":2},{"p":"CFP","f":"F10","v":0.445,"i":7},{"p":"CFP","f":"F10","v":0.401,"i":1},{"p":"CFP","f":"F10","v":0.379,"i":10},
{"p":"CFP","f":"F11","v":0.537,"i":4},{"p":"CFP","f":"F11","v":0.282,"i":9},{"p":"CFP","f":"F11","v":0.208,"i":2},{"p":"CFP","f":"F11","v":0.155,"i":7},{"p":"CFP","f":"F11","v":0.129,"i":1},
{"p":"CFP","f":"F12","v":0.472,"i":4},{"p":"CFP","f":"F12","v":0.032,"i":9},{"p":"CFP","f":"F12","v":0.009,"i":2},{"p":"CFP","f":"F12","v":0,"i":7},
{"p":"CFP","f":"F13","v":0.516,"i":4},{"p":"CFP","f":"F13","v":0.475,"i":9},{"p":"CFP","f":"F13","v":0.431,"i":2},{"p":"CFP","f":"F13","v":0.375,"i":7},{"p":"CFP","f":"F13","v":0.176,"i":1},{"p":"CFP","f":"F13","v":0.081,"i":10},{"p":"CFP","f":"F13","v":0.169,"i":5},
{"p":"CFP","f":"F14","v":0.296,"i":4},{"p":"CFP","f":"F14","v":0.199,"i":9},{"p":"CFP","f":"F14","v":0.141,"i":2},{"p":"CFP","f":"F14","v":0.099,"i":7},{"p":"CFP","f":"F14","v":0.07,"i":1},{"p":"CFP","f":"F14","v":0.046,"i":10}
]
},
"concat": [
{"width":528,"height":212,"layer":[
{"data":{"values":[{"gv":0.125},{"gv":0.375},{"gv":0.625},{"gv":0.875}]},"mark":{"type":"rule","color":"#ededed","strokeWidth":0.8},"encoding":{"y":{"field":"gv","type":"quantitative","scale":{"domain":[-0.05,1.05],"nice":false},"title":"R²ᵥₐₗ","axis":{"values":[0,0.25,0.5,0.75,1],"format":".2f"}}}},
{"data":{"name":"box"},"transform":[{"filter":"datum.p=='RCT'"}],"mark":{"type":"rule","color":"#4262ff","strokeWidth":1.8},"encoding":{"x":{"field":"f","type":"nominal","scale":{"paddingInner":0.2,"paddingOuter":0.2},"title":"Farm"},"y":{"field":"lo","type":"quantitative","scale":{"domain":[-0.05,1.05],"nice":false},"title":"R²ᵥₐₗ","axis":{"values":[0,0.25,0.5,0.75,1],"format":".2f"}},"y2":{"field":"hi"}}},
{"data":{"name":"box"},"transform":[{"filter":"datum.p=='RCT'"}],"mark":{"type":"bar","stroke":"#4262ff","strokeWidth":2,"width":{"band":0.9}},"encoding":{"x":{"field":"f","type":"nominal","title":"Farm"},"y":{"field":"q1","type":"quantitative","scale":{"domain":[-0.05,1.05],"nice":false},"title":"R²ᵥₐₗ","axis":{"values":[0,0.25,0.5,0.75,1],"format":".2f"}},"y2":{"field":"q3"},"fill":{"field":"grp","type":"nominal","scale":{"domain":["Y","P"],"range":["#f8e46a","#6f5f86"]},"legend":null}}},
{"data":{"name":"box"},"transform":[{"filter":"datum.p=='RCT'"}],"mark":{"type":"bar","fill":"#2f4dff","stroke":"#2f4dff","strokeWidth":3,"width":{"band":0.9}},"encoding":{"x":{"field":"f","type":"nominal","title":"Farm"},"y":{"field":"md","type":"quantitative","scale":{"domain":[-0.05,1.05],"nice":false},"title":"R²ᵥₐₗ","axis":{"values":[0,0.25,0.5,0.75,1],"format":".2f"}},"y2":{"field":"md"}}},
{"data":{"name":"pts"},"transform":[{"filter":"datum.p=='RCT'"}],"mark":{"type":"circle","color":"#000000","size":12,"opacity":1},"encoding":{"x":{"field":"f","type":"nominal","title":"Farm"},"xOffset":{"field":"i","type":"nominal","scale":{"domain":[1,2,3,4,5,6,7,8,9,10],"range":[4,26]}},"y":{"field":"v","type":"quantitative","scale":{"domain":[-0.05,1.05],"nice":false},"title":"R²ᵥₐₗ","axis":{"values":[0,0.25,0.5,0.75,1],"format":".2f"}}}},
{"data":{"name":"box"},"transform":[{"filter":"datum.p=='RCT'"}],"mark":{"type":"point","shape":"diamond","filled":true,"fill":"#ee0000","stroke":"#1ee0e8","strokeWidth":1.5,"size":60,"opacity":1},"encoding":{"x":{"field":"f","type":"nominal","title":"Farm"},"y":{"field":"mn","type":"quantitative","scale":{"domain":[-0.05,1.05],"nice":false},"title":"R²ᵥₐₗ","axis":{"values":[0,0.25,0.5,0.75,1],"format":".2f"}}}},
{"data":{"name":"box"},"transform":[{"filter":"datum.p=='RCT'"}],"mark":{"type":"text","color":"#2222ff","fontSize":18,"baseline":"middle"},"encoding":{"x":{"field":"f","type":"nominal","title":"Farm"},"y":{"datum":1,"type":"quantitative","scale":{"domain":[-0.05,1.05],"nice":false},"title":"R²ᵥₐₗ","axis":{"values":[0,0.25,0.5,0.75,1],"format":".2f"}},"text":{"field":"n"}}},
{"data":{"values":[{}]},"mark":{"type":"text","text":"RCT","align":"left","baseline":"middle","dx":-22,"fontSize":14,"fontWeight":"bold","font":"Liberation Sans","color":"#000000"},"encoding":{"x":{"datum":"F01","type":"nominal","title":"Farm"},"y":{"datum":1.19,"type":"quantitative","scale":{"domain":[-0.05,1.05],"nice":false},"title":"R²ᵥₐₗ","axis":{"values":[0,0.25,0.5,0.75,1],"format":".2f"}}}}
]},
{"width":528,"height":212,"layer":[
{"data":{"values":[{"gv":0.125},{"gv":0.375},{"gv":0.625},{"gv":0.875}]},"mark":{"type":"rule","color":"#ededed","strokeWidth":0.8},"encoding":{"y":{"field":"gv","type":"quantitative","scale":{"domain":[-0.05,1.05],"nice":false},"title":"R²ᵥₐₗ","axis":{"values":[0,0.25,0.5,0.75,1],"format":".2f"}}}},
{"data":{"name":"box"},"transform":[{"filter":"datum.p=='k20'"}],"mark":{"type":"rule","color":"#4262ff","strokeWidth":1.8},"encoding":{"x":{"field":"f","type":"nominal","scale":{"paddingInner":0.2,"paddingOuter":0.2},"title":"Farm"},"y":{"field":"lo","type":"quantitative","scale":{"domain":[-0.05,1.05],"nice":false},"title":"R²ᵥₐₗ","axis":{"values":[0,0.25,0.5,0.75,1],"format":".2f"}},"y2":{"field":"hi"}}},
{"data":{"name":"box"},"transform":[{"filter":"datum.p=='k20'"}],"mark":{"type":"bar","stroke":"#4262ff","strokeWidth":2,"width":{"band":0.9}},"encoding":{"x":{"field":"f","type":"nominal","title":"Farm"},"y":{"field":"q1","type":"quantitative","scale":{"domain":[-0.05,1.05],"nice":false},"title":"R²ᵥₐₗ","axis":{"values":[0,0.25,0.5,0.75,1],"format":".2f"}},"y2":{"field":"q3"},"fill":{"field":"grp","type":"nominal","scale":{"domain":["Y","P"],"range":["#f8e46a","#6f5f86"]},"legend":null}}},
{"data":{"name":"box"},"transform":[{"filter":"datum.p=='k20'"}],"mark":{"type":"bar","fill":"#2f4dff","stroke":"#2f4dff","strokeWidth":3,"width":{"band":0.9}},"encoding":{"x":{"field":"f","type":"nominal","title":"Farm"},"y":{"field":"md","type":"quantitative","scale":{"domain":[-0.05,1.05],"nice":false},"title":"R²ᵥₐₗ","axis":{"values":[0,0.25,0.5,0.75,1],"format":".2f"}},"y2":{"field":"md"}}},
{"data":{"name":"pts"},"transform":[{"filter":"datum.p=='k20'"}],"mark":{"type":"circle","color":"#000000","size":12,"opacity":1},"encoding":{"x":{"field":"f","type":"nominal","title":"Farm"},"xOffset":{"field":"i","type":"nominal","scale":{"domain":[1,2,3,4,5,6,7,8,9,10],"range":[4,26]}},"y":{"field":"v","type":"quantitative","scale":{"domain":[-0.05,1.05],"nice":false},"title":"R²ᵥₐₗ","axis":{"values":[0,0.25,0.5,0.75,1],"format":".2f"}}}},
{"data":{"name":"box"},"transform":[{"filter":"datum.p=='k20'"}],"mark":{"type":"point","shape":"diamond","filled":true,"fill":"#ee0000","stroke":"#1ee0e8","strokeWidth":1.5,"size":60,"opacity":1},"encoding":{"x":{"field":"f","type":"nominal","title":"Farm"},"y":{"field":"mn","type":"quantitative","scale":{"domain":[-0.05,1.05],"nice":false},"title":"R²ᵥₐₗ","axis":{"values":[0,0.25,0.5,0.75,1],"format":".2f"}}}},
{"data":{"name":"box"},"transform":[{"filter":"datum.p=='k20'"}],"mark":{"type":"text","color":"#2222ff","fontSize":18,"baseline":"middle"},"encoding":{"x":{"field":"f","type":"nominal","title":"Farm"},"y":{"datum":1,"type":"quantitative","scale":{"domain":[-0.05,1.05],"nice":false},"title":"R²ᵥₐₗ","axis":{"values":[0,0.25,0.5,0.75,1],"format":".2f"}},"text":{"field":"n"}}},
{"data":{"values":[{}]},"mark":{"type":"text","text":"k","align":"left","baseline":"middle","dx":-22,"fontSize":14,"fontWeight":"bold","font":"Liberation Sans","color":"#000000"},"encoding":{"x":{"datum":"F01","type":"nominal","title":"Farm"},"y":{"datum":1.19,"type":"quantitative","scale":{"domain":[-0.05,1.05],"nice":false},"title":"R²ᵥₐₗ","axis":{"values":[0,0.25,0.5,0.75,1],"format":".2f"}}}},
{"data":{"values":[{}]},"mark":{"type":"text","text":"20","align":"left","baseline":"middle","dx":-14,"dy":5,"fontSize":10,"font":"Liberation Sans","color":"#000000"},"encoding":{"x":{"datum":"F01","type":"nominal","title":"Farm"},"y":{"datum":1.19,"type":"quantitative","scale":{"domain":[-0.05,1.05],"nice":false},"title":"R²ᵥₐₗ","axis":{"values":[0,0.25,0.5,0.75,1],"format":".2f"}}}}
]},
{"width":528,"height":212,"layer":[
{"data":{"values":[{"gv":0.125},{"gv":0.375},{"gv":0.625},{"gv":0.875}]},"mark":{"type":"rule","color":"#ededed","strokeWidth":0.8},"encoding":{"y":{"field":"gv","type":"quantitative","scale":{"domain":[-0.05,1.05],"nice":false},"title":"R²ᵥₐₗ","axis":{"values":[0,0.25,0.5,0.75,1],"format":".2f"}}}},
{"data":{"name":"box"},"transform":[{"filter":"datum.p=='a30'"}],"mark":{"type":"rule","color":"#4262ff","strokeWidth":1.8},"encoding":{"x":{"field":"f","type":"nominal","scale":{"paddingInner":0.2,"paddingOuter":0.2},"title":"Farm"},"y":{"field":"lo","type":"quantitative","scale":{"domain":[-0.05,1.05],"nice":false},"title":"R²ᵥₐₗ","axis":{"values":[0,0.25,0.5,0.75,1],"format":".2f"}},"y2":{"field":"hi"}}},
{"data":{"name":"box"},"transform":[{"filter":"datum.p=='a30'"}],"mark":{"type":"bar","stroke":"#4262ff","strokeWidth":2,"width":{"band":0.9}},"encoding":{"x":{"field":"f","type":"nominal","title":"Farm"},"y":{"field":"q1","type":"quantitative","scale":{"domain":[-0.05,1.05],"nice":false},"title":"R²ᵥₐₗ","axis":{"values":[0,0.25,0.5,0.75,1],"format":".2f"}},"y2":{"field":"q3"},"fill":{"field":"grp","type":"nominal","scale":{"domain":["Y","P"],"range":["#f8e46a","#6f5f86"]},"legend":null}}},
{"data":{"name":"box"},"transform":[{"filter":"datum.p=='a30'"}],"mark":{"type":"bar","fill":"#2f4dff","stroke":"#2f4dff","strokeWidth":3,"width":{"band":0.9}},"encoding":{"x":{"field":"f","type":"nominal","title":"Farm"},"y":{"field":"md","type":"quantitative","scale":{"domain":[-0.05,1.05],"nice":false},"title":"R²ᵥₐₗ","axis":{"values":[0,0.25,0.5,0.75,1],"format":".2f"}},"y2":{"field":"md"}}},
{"data":{"name":"pts"},"transform":[{"filter":"datum.p=='a30'"}],"mark":{"type":"circle","color":"#000000","size":12,"opacity":1},"encoding":{"x":{"field":"f","type":"nominal","title":"Farm"},"xOffset":{"field":"i","type":"nominal","scale":{"domain":[1,2,3,4,5,6,7,8,9,10],"range":[4,26]}},"y":{"field":"v","type":"quantitative","scale":{"domain":[-0.05,1.05],"nice":false},"title":"R²ᵥₐₗ","axis":{"values":[0,0.25,0.5,0.75,1],"format":".2f"}}}},
{"data":{"name":"box"},"transform":[{"filter":"datum.p=='a30'"}],"mark":{"type":"point","shape":"diamond","filled":true,"fill":"#ee0000","stroke":"#1ee0e8","strokeWidth":1.5,"size":60,"opacity":1},"encoding":{"x":{"field":"f","type":"nominal","title":"Farm"},"y":{"field":"mn","type":"quantitative","scale":{"domain":[-0.05,1.05],"nice":false},"title":"R²ᵥₐₗ","axis":{"values":[0,0.25,0.5,0.75,1],"format":".2f"}}}},
{"data":{"name":"box"},"transform":[{"filter":"datum.p=='a30'"}],"mark":{"type":"text","color":"#2222ff","fontSize":18,"baseline":"middle"},"encoding":{"x":{"field":"f","type":"nominal","title":"Farm"},"y":{"datum":1,"type":"quantitative","scale":{"domain":[-0.05,1.05],"nice":false},"title":"R²ᵥₐₗ","axis":{"values":[0,0.25,0.5,0.75,1],"format":".2f"}},"text":{"field":"n"}}},
{"data":{"values":[{}]},"mark":{"type":"text","text":"a","align":"left","baseline":"middle","dx":-22,"fontSize":14,"fontWeight":"bold","font":"Liberation Sans","color":"#000000"},"encoding":{"x":{"datum":"F01","type":"nominal","title":"Farm"},"y":{"datum":1.19,"type":"quantitative","scale":{"domain":[-0.05,1.05],"nice":false},"title":"R²ᵥₐₗ","axis":{"values":[0,0.25,0.5,0.75,1],"format":".2f"}}}},
{"data":{"values":[{}]},"mark":{"type":"text","text":"30","align":"left","baseline":"middle","dx":-14,"dy":5,"fontSize":10,"font":"Liberation Sans","color":"#000000"},"encoding":{"x":{"datum":"F01","type":"nominal","title":"Farm"},"y":{"datum":1.19,"type":"quantitative","scale":{"domain":[-0.05,1.05],"nice":false},"title":"R²ᵥₐₗ","axis":{"values":[0,0.25,0.5,0.75,1],"format":".2f"}}}}
]},
{"width":528,"height":212,"layer":[
{"data":{"values":[{"gv":0.125},{"gv":0.375},{"gv":0.625},{"gv":0.875}]},"mark":{"type":"rule","color":"#ededed","strokeWidth":0.8},"encoding":{"y":{"field":"gv","type":"quantitative","scale":{"domain":[-0.05,1.05],"nice":false},"title":"R²ᵥₐₗ","axis":{"values":[0,0.25,0.5,0.75,1],"format":".2f"}}}},
{"data":{"name":"box"},"transform":[{"filter":"datum.p=='RCTeq'"}],"mark":{"type":"rule","color":"#4262ff","strokeWidth":1.8},"encoding":{"x":{"field":"f","type":"nominal","scale":{"paddingInner":0.2,"paddingOuter":0.2},"title":"Farm"},"y":{"field":"lo","type":"quantitative","scale":{"domain":[-0.05,1.05],"nice":false},"title":"R²ᵥₐₗ","axis":{"values":[0,0.25,0.5,0.75,1],"format":".2f"}},"y2":{"field":"hi"}}},
{"data":{"name":"box"},"transform":[{"filter":"datum.p=='RCTeq'"}],"mark":{"type":"bar","stroke":"#4262ff","strokeWidth":2,"width":{"band":0.9}},"encoding":{"x":{"field":"f","type":"nominal","title":"Farm"},"y":{"field":"q1","type":"quantitative","scale":{"domain":[-0.05,1.05],"nice":false},"title":"R²ᵥₐₗ","axis":{"values":[0,0.25,0.5,0.75,1],"format":".2f"}},"y2":{"field":"q3"},"fill":{"field":"grp","type":"nominal","scale":{"domain":["Y","P"],"range":["#f8e46a","#6f5f86"]},"legend":null}}},
{"data":{"name":"box"},"transform":[{"filter":"datum.p=='RCTeq'"}],"mark":{"type":"bar","fill":"#2f4dff","stroke":"#2f4dff","strokeWidth":3,"width":{"band":0.9}},"encoding":{"x":{"field":"f","type":"nominal","title":"Farm"},"y":{"field":"md","type":"quantitative","scale":{"domain":[-0.05,1.05],"nice":false},"title":"R²ᵥₐₗ","axis":{"values":[0,0.25,0.5,0.75,1],"format":".2f"}},"y2":{"field":"md"}}},
{"data":{"name":"pts"},"transform":[{"filter":"datum.p=='RCTeq'"}],"mark":{"type":"circle","color":"#000000","size":12,"opacity":1},"encoding":{"x":{"field":"f","type":"nominal","title":"Farm"},"xOffset":{"field":"i","type":"nominal","scale":{"domain":[1,2,3,4,5,6,7,8,9,10],"range":[4,26]}},"y":{"field":"v","type":"quantitative","scale":{"domain":[-0.05,1.05],"nice":false},"title":"R²ᵥₐₗ","axis":{"values":[0,0.25,0.5,0.75,1],"format":".2f"}}}},
{"data":{"name":"box"},"transform":[{"filter":"datum.p=='RCTeq'"}],"mark":{"type":"point","shape":"diamond","filled":true,"fill":"#ee0000","stroke":"#1ee0e8","strokeWidth":1.5,"size":60,"opacity":1},"encoding":{"x":{"field":"f","type":"nominal","title":"Farm"},"y":{"field":"mn","type":"quantitative","scale":{"domain":[-0.05,1.05],"nice":false},"title":"R²ᵥₐₗ","axis":{"values":[0,0.25,0.5,0.75,1],"format":".2f"}}}},
{"data":{"name":"box"},"transform":[{"filter":"datum.p=='RCTeq'"}],"mark":{"type":"text","color":"#2222ff","fontSize":18,"baseline":"middle"},"encoding":{"x":{"field":"f","type":"nominal","title":"Farm"},"y":{"datum":1,"type":"quantitative","scale":{"domain":[-0.05,1.05],"nice":false},"title":"R²ᵥₐₗ","axis":{"values":[0,0.25,0.5,0.75,1],"format":".2f"}},"text":{"field":"n"}}},
{"data":{"values":[{}]},"mark":{"type":"text","text":"RCT","align":"left","baseline":"middle","dx":-22,"fontSize":14,"fontWeight":"bold","font":"Liberation Sans","color":"#000000"},"encoding":{"x":{"datum":"F01","type":"nominal","title":"Farm"},"y":{"datum":1.19,"type":"quantitative","scale":{"domain":[-0.05,1.05],"nice":false},"title":"R²ᵥₐₗ","axis":{"values":[0,0.25,0.5,0.75,1],"format":".2f"}}}},
{"data":{"values":[{}]},"mark":{"type":"text","text":"eq","align":"left","baseline":"middle","dx":7,"dy":5,"fontSize":10,"fontWeight":"bold","font":"Liberation Sans","color":"#000000"},"encoding":{"x":{"datum":"F01","type":"nominal","title":"Farm"},"y":{"datum":1.19,"type":"quantitative","scale":{"domain":[-0.05,1.05],"nice":false},"title":"R²ᵥₐₗ","axis":{"values":[0,0.25,0.5,0.75,1],"format":".2f"}}}}
]},
{"width":528,"height":212,"layer":[
{"data":{"values":[{"gv":0.125},{"gv":0.375},{"gv":0.625},{"gv":0.875}]},"mark":{"type":"rule","color":"#ededed","strokeWidth":0.8},"encoding":{"y":{"field":"gv","type":"quantitative","scale":{"domain":[-0.05,1.05],"nice":false},"title":"R²ᵥₐₗ","axis":{"values":[0,0.25,0.5,0.75,1],"format":".2f"}}}},
{"data":{"name":"box"},"transform":[{"filter":"datum.p=='kcF'"}],"mark":{"type":"rule","color":"#4262ff","strokeWidth":1.8},"encoding":{"x":{"field":"f","type":"nominal","scale":{"paddingInner":0.2,"paddingOuter":0.2},"title":"Farm"},"y":{"field":"lo","type":"quantitative","scale":{"domain":[-0.05,1.05],"nice":false},"title":"R²ᵥₐₗ","axis":{"values":[0,0.25,0.5,0.75,1],"format":".2f"}},"y2":{"field":"hi"}}},
{"data":{"name":"box"},"transform":[{"filter":"datum.p=='kcF'"}],"mark":{"type":"bar","stroke":"#4262ff","strokeWidth":2,"width":{"band":0.9}},"encoding":{"x":{"field":"f","type":"nominal","title":"Farm"},"y":{"field":"q1","type":"quantitative","scale":{"domain":[-0.05,1.05],"nice":false},"title":"R²ᵥₐₗ","axis":{"values":[0,0.25,0.5,0.75,1],"format":".2f"}},"y2":{"field":"q3"},"fill":{"field":"grp","type":"nominal","scale":{"domain":["Y","P"],"range":["#f8e46a","#6f5f86"]},"legend":null}}},
{"data":{"name":"box"},"transform":[{"filter":"datum.p=='kcF'"}],"mark":{"type":"bar","fill":"#2f4dff","stroke":"#2f4dff","strokeWidth":3,"width":{"band":0.9}},"encoding":{"x":{"field":"f","type":"nominal","title":"Farm"},"y":{"field":"md","type":"quantitative","scale":{"domain":[-0.05,1.05],"nice":false},"title":"R²ᵥₐₗ","axis":{"values":[0,0.25,0.5,0.75,1],"format":".2f"}},"y2":{"field":"md"}}},
{"data":{"name":"pts"},"transform":[{"filter":"datum.p=='kcF'"}],"mark":{"type":"circle","color":"#000000","size":12,"opacity":1},"encoding":{"x":{"field":"f","type":"nominal","title":"Farm"},"xOffset":{"field":"i","type":"nominal","scale":{"domain":[1,2,3,4,5,6,7,8,9,10],"range":[4,26]}},"y":{"field":"v","type":"quantitative","scale":{"domain":[-0.05,1.05],"nice":false},"title":"R²ᵥₐₗ","axis":{"values":[0,0.25,0.5,0.75,1],"format":".2f"}}}},
{"data":{"name":"box"},"transform":[{"filter":"datum.p=='kcF'"}],"mark":{"type":"point","shape":"diamond","filled":true,"fill":"#ee0000","stroke":"#1ee0e8","strokeWidth":1.5,"size":60,"opacity":1},"encoding":{"x":{"field":"f","type":"nominal","title":"Farm"},"y":{"field":"mn","type":"quantitative","scale":{"domain":[-0.05,1.05],"nice":false},"title":"R²ᵥₐₗ","axis":{"values":[0,0.25,0.5,0.75,1],"format":".2f"}}}},
{"data":{"name":"box"},"transform":[{"filter":"datum.p=='kcF'"}],"mark":{"type":"text","color":"#2222ff","fontSize":18,"baseline":"middle"},"encoding":{"x":{"field":"f","type":"nominal","title":"Farm"},"y":{"datum":1,"type":"quantitative","scale":{"domain":[-0.05,1.05],"nice":false},"title":"R²ᵥₐₗ","axis":{"values":[0,0.25,0.5,0.75,1],"format":".2f"}},"text":{"field":"n"}}},
{"data":{"values":[{}]},"mark":{"type":"text","text":"kc","align":"left","baseline":"middle","dx":-22,"fontSize":14,"fontWeight":"bold","font":"Liberation Sans","color":"#000000"},"encoding":{"x":{"datum":"F01","type":"nominal","title":"Farm"},"y":{"datum":1.19,"type":"quantitative","scale":{"domain":[-0.05,1.05],"nice":false},"title":"R²ᵥₐₗ","axis":{"values":[0,0.25,0.5,0.75,1],"format":".2f"}}}},
{"data":{"values":[{}]},"mark":{"type":"text","text":"F","align":"left","baseline":"middle","dx":-6,"dy":5,"fontSize":10,"fontWeight":"bold","font":"Liberation Sans","color":"#000000"},"encoding":{"x":{"datum":"F01","type":"nominal","title":"Farm"},"y":{"datum":1.19,"type":"quantitative","scale":{"domain":[-0.05,1.05],"nice":false},"title":"R²ᵥₐₗ","axis":{"values":[0,0.25,0.5,0.75,1],"format":".2f"}}}}
]},
{"width":528,"height":212,"layer":[
{"data":{"values":[{"gv":0.125},{"gv":0.375},{"gv":0.625},{"gv":0.875}]},"mark":{"type":"rule","color":"#ededed","strokeWidth":0.8},"encoding":{"y":{"field":"gv","type":"quantitative","scale":{"domain":[-0.05,1.05],"nice":false},"title":"R²ᵥₐₗ","axis":{"values":[0,0.25,0.5,0.75,1],"format":".2f"}}}},
{"data":{"name":"box"},"transform":[{"filter":"datum.p=='CFP'"}],"mark":{"type":"rule","color":"#4262ff","strokeWidth":1.8},"encoding":{"x":{"field":"f","type":"nominal","scale":{"paddingInner":0.2,"paddingOuter":0.2},"title":"Farm"},"y":{"field":"lo","type":"quantitative","scale":{"domain":[-0.05,1.05],"nice":false},"title":"R²ᵥₐₗ","axis":{"values":[0,0.25,0.5,0.75,1],"format":".2f"}},"y2":{"field":"hi"}}},
{"data":{"name":"box"},"transform":[{"filter":"datum.p=='CFP'"}],"mark":{"type":"bar","stroke":"#4262ff","strokeWidth":2,"width":{"band":0.9}},"encoding":{"x":{"field":"f","type":"nominal","title":"Farm"},"y":{"field":"q1","type":"quantitative","scale":{"domain":[-0.05,1.05],"nice":false},"title":"R²ᵥₐₗ","axis":{"values":[0,0.25,0.5,0.75,1],"format":".2f"}},"y2":{"field":"q3"},"fill":{"field":"grp","type":"nominal","scale":{"domain":["Y","P"],"range":["#f8e46a","#6f5f86"]},"legend":null}}},
{"data":{"name":"box"},"transform":[{"filter":"datum.p=='CFP'"}],"mark":{"type":"bar","fill":"#2f4dff","stroke":"#2f4dff","strokeWidth":3,"width":{"band":0.9}},"encoding":{"x":{"field":"f","type":"nominal","title":"Farm"},"y":{"field":"md","type":"quantitative","scale":{"domain":[-0.05,1.05],"nice":false},"title":"R²ᵥₐₗ","axis":{"values":[0,0.25,0.5,0.75,1],"format":".2f"}},"y2":{"field":"md"}}},
{"data":{"name":"pts"},"transform":[{"filter":"datum.p=='CFP'"}],"mark":{"type":"circle","color":"#000000","size":12,"opacity":1},"encoding":{"x":{"field":"f","type":"nominal","title":"Farm"},"xOffset":{"field":"i","type":"nominal","scale":{"domain":[1,2,3,4,5,6,7,8,9,10],"range":[4,26]}},"y":{"field":"v","type":"quantitative","scale":{"domain":[-0.05,1.05],"nice":false},"title":"R²ᵥₐₗ","axis":{"values":[0,0.25,0.5,0.75,1],"format":".2f"}}}},
{"data":{"name":"box"},"transform":[{"filter":"datum.p=='CFP'"}],"mark":{"type":"point","shape":"diamond","filled":true,"fill":"#ee0000","stroke":"#1ee0e8","strokeWidth":1.5,"size":60,"opacity":1},"encoding":{"x":{"field":"f","type":"nominal","title":"Farm"},"y":{"field":"mn","type":"quantitative","scale":{"domain":[-0.05,1.05],"nice":false},"title":"R²ᵥₐₗ","axis":{"values":[0,0.25,0.5,0.75,1],"format":".2f"}}}},
{"data":{"name":"box"},"transform":[{"filter":"datum.p=='CFP'"}],"mark":{"type":"text","color":"#2222ff","fontSize":18,"baseline":"middle"},"encoding":{"x":{"field":"f","type":"nominal","title":"Farm"},"y":{"datum":1,"type":"quantitative","scale":{"domain":[-0.05,1.05],"nice":false},"title":"R²ᵥₐₗ","axis":{"values":[0,0.25,0.5,0.75,1],"format":".2f"}},"text":{"field":"n"}}},
{"data":{"values":[{}]},"mark":{"type":"text","text":"CF","align":"left","baseline":"middle","dx":-22,"fontSize":14,"fontWeight":"bold","font":"Liberation Sans","color":"#000000"},"encoding":{"x":{"datum":"F01","type":"nominal","title":"Farm"},"y":{"datum":1.19,"type":"quantitative","scale":{"domain":[-0.05,1.05],"nice":false},"title":"R²ᵥₐₗ","axis":{"values":[0,0.25,0.5,0.75,1],"format":".2f"}}}},
{"data":{"values":[{}]},"mark":{"type":"text","text":"P","align":"left","baseline":"middle","dx":-3,"dy":5,"fontSize":10,"fontWeight":"bold","font":"Liberation Sans","color":"#000000"},"encoding":{"x":{"datum":"F01","type":"nominal","title":"Farm"},"y":{"datum":1.19,"type":"quantitative","scale":{"domain":[-0.05,1.05],"nice":false},"title":"R²ᵥₐₗ","axis":{"values":[0,0.25,0.5,0.75,1],"format":".2f"}}}}
]}
],
"columns": 3,
"spacing": {"row": 148, "column": 107},
"bounds": "flush",
"config": {
"view": {"stroke": null},
"font": "Liberation Sans Narrow",
"axis": {"domain": false, "ticks": false, "gridColor": "#dcdcdc", "gridWidth": 1, "labelColor": "#4d4d4d", "labelFontSize": 18, "titleFontWeight": "normal", "titleColor": "#1a1a1a"},
"axisX": {"grid": true, "bandPosition": 0.5, "labelAngle": 0, "labelPadding": 3, "titleAnchor": "end", "titleFontSize": 12, "titlePadding": 2, "gridColor": "#e3e3e3"},
"axisY": {"labelPadding": 5, "titleAnchor": "end", "titleFontSize": 14, "titlePadding": 4}
}
}
